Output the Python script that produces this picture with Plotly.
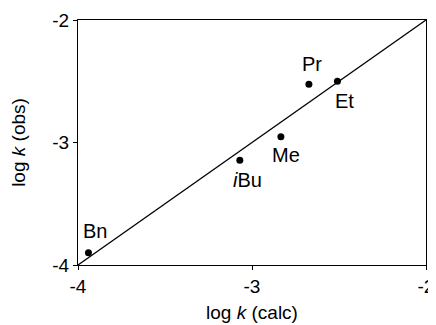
import plotly.graph_objects as go

# observed vs calculated rate constants (log k)
labels = ["Bn", "<i>i</i>Bu", "Me", "Pr", "Et"]
log_k_calc = [-3.94, -3.07, -2.834, -2.673, -2.509]
log_k_obs = [-3.90, -3.144, -2.953, -2.524, -2.50]

# label offsets in px (x right, y up)
label_dx = [7, 8, 5, 3, 7]
label_dy = [22, -20, -18, 20, -20]

# identity line y = x
ref_x = [-4, -2]
ref_y = [-4, -2]

tick_vals = [-4, -3, -2]
tick_text = ["-4", "-3", "-2"]

FONT = "Liberation Sans, Arial, Helvetica, sans-serif"

fig = go.Figure()

fig.add_trace(go.Scatter(
    x=ref_x, y=ref_y,
    mode="lines",
    line=dict(color="black", width=1.3),
    showlegend=False,
    hoverinfo="skip",
))

fig.add_trace(go.Scatter(
    x=log_k_calc, y=log_k_obs,
    mode="markers",
    marker=dict(color="black", size=7),
    showlegend=False,
))

for lab, x, y, dx, dy in zip(labels, log_k_calc, log_k_obs, label_dx, label_dy):
    fig.add_annotation(
        x=x, y=y, text=lab,
        showarrow=False,
        xshift=dx, yshift=dy,
        font=dict(size=20, color="black", family=FONT),
    )

axis_style = dict(
    range=[-4, -2],
    tickvals=tick_vals,
    ticktext=tick_text,
    ticks="outside",
    ticklen=4,
    tickwidth=1.3,
    tickcolor="black",
    showline=True,
    linecolor="black",
    linewidth=1.3,
    mirror=True,
    showgrid=False,
    zeroline=False,
    automargin=False,
    tickfont=dict(size=19, color="black", family=FONT),
)

# page body has an 8px default margin, so the figure is sized to fit after it
fig.update_layout(
    width=428,
    height=317,
    margin=dict(l=70, r=10, t=12, b=60),
    paper_bgcolor="white",
    plot_bgcolor="white",
    font=dict(family=FONT, color="black"),
    xaxis=dict(**axis_style,
               title=dict(text="log <i>k</i> (calc)", font=dict(size=19), standoff=9)),
    yaxis=dict(**axis_style,
               title=dict(text="log <i>k</i> (obs)", font=dict(size=19), standoff=27)),
)

fig.write_html("out.html")
